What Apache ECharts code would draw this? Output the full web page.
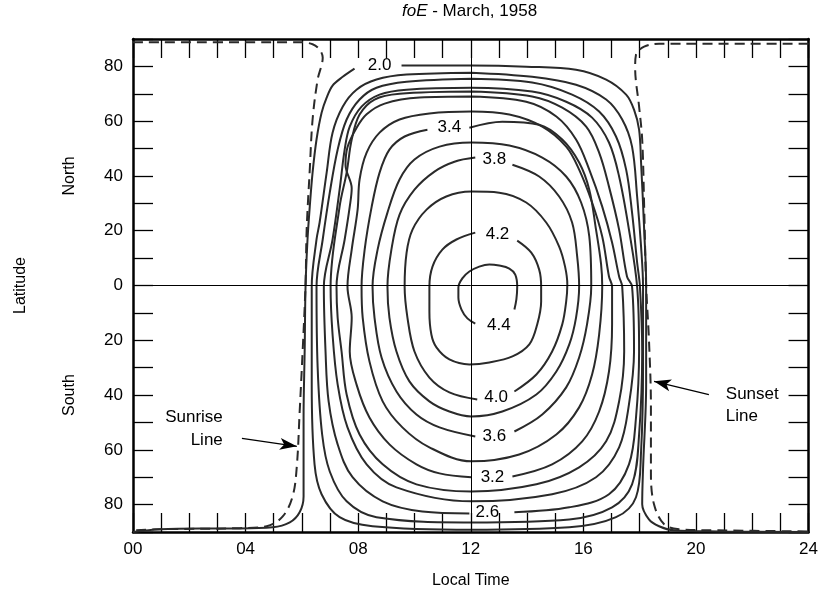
<!DOCTYPE html>
<html><head><meta charset="utf-8">
<script src="https://cdn.jsdelivr.net/npm/echarts@6/dist/echarts.min.js"></script>
<style>html,body{margin:0;padding:0;background:#fff}#c{width:821px;height:594px}</style>
</head><body><div id="c"></div>
<script>
// x = local time (hours), y = latitude (deg, north positive)
const xTicks = [0,4,8,12,16,20,24];
const yLabelValues = [80,60,40,20,0,-20,-40,-60,-80];

const c20 = [[0,-90],[0.96,-89],[2.38,-88.7],[3.8,-88.7],[4.96,-88.3],[5.57,-86.5],[5.92,-82.8],[6.06,-77],[6.06,-48.2],[6.1,-23.3],[6.13,-0.4],[6.2,16.8],[6.28,28.8],[6.38,41.2],[6.52,53.3],[6.7,63.1],[6.88,68.6],[7.09,73],[7.45,76.2],[7.87,79.2],null,[9.54,80.3],[12.02,80.3],[13.97,79.9],[15.74,78.8],[16.81,75.2],[17.52,69.7],[17.8,64.2],[17.98,56.9],[18.05,44.9],[18.16,20.4],[18.23,0.4],[18.23,-36.1],[18.12,-67],[18.09,-79.9],[18.33,-85.4],[18.69,-87.9],[19.22,-89.4],[20.8,-89.8],[24,-90]];
const c22 = [[12.02,77.7],[14.18,76.2],[15.74,73.3],[16.81,67.9],[17.38,60.6],[17.73,50.7],[17.91,32.5],[18.05,14.2],[18.12,-0.4],[18.12,-29.9],[18.05,-60.6],[17.87,-77.3],[17.16,-84.6],[15.5,-88.3],[12.02,-89.2],[8.51,-87.9],[7.34,-84.6],[6.7,-76.2],[6.45,-65.3],[6.35,-36.1],[6.35,-0.4],[6.52,16.8],[6.63,23],[6.88,41.2],[7.09,55.8],[7.45,65.3],[7.94,71.5],[8.65,75.2],[9.72,77],[12.02,77.7]];
const c24 = [[12.02,75.5],[14.18,74.1],[15.6,69.7],[16.56,63.5],[17.16,54.4],[17.52,42.3],[17.73,26.6],[17.91,8.4],[18.01,-0.4],[18.09,-24.1],[17.98,-54.4],[17.73,-72.6],[17.02,-81],[15.5,-85.4],[12.02,-86.5],[8.65,-84.6],[7.59,-78.8],[6.99,-67.9],[6.72,-54.4],[6.56,-29.9],[6.52,-0.4],[6.74,16.8],[6.99,33.9],[7.27,49.6],[7.59,60.6],[8.05,67.9],[8.65,72.2],[9.72,74.4],[12.02,75.5]];
const c26 = [[13.55,-82.8],[15.5,-81],[16.91,-76.2],[17.62,-65.3],[17.87,-48.2],[17.98,-24.1],[17.91,-0.4],[17.62,20.4],[17.27,39.8],[16.91,52.2],[16.31,61.3],[15.39,67.1],[14.18,70.8],[12.02,72.2],[9.72,71.5],[8.76,69.7],[8.12,65.3],[7.7,58],[7.52,49.6],[7.34,35],[7.09,16.8],[6.78,-0.4],[6.84,-24.1],[6.95,-42.3],[7.27,-58],[7.8,-70],[8.87,-78.8],[10.28,-82.5],[11.95,-83.2]];
const c28 = [[12.02,70.8],[14.18,69],[15.25,64.9],[16.1,58],[16.56,48.5],[16.91,36.1],[17.27,20.4],[17.55,3.3],[17.73,-0.4],[17.8,-24.1],[17.62,-43.4],[17.27,-59.1],[16.45,-70],[14.89,-76.2],[12.02,-78.8],[9.36,-73.7],[8.3,-65.3],[7.62,-51.8],[7.27,-36.1],[7.09,-17.9],[7.02,-0.4],[7.34,28.8],[7.59,41.2],[7.77,53.3],[8.05,62.4],[8.58,67.9],[9.47,70],[12.02,70.8]];
const c30 = [[12.02,69],[13.97,67.1],[15.04,61.7],[15.74,53.3],[16.21,42.3],[16.67,28.8],[17.02,15.7],[17.27,3.3],[17.38,-0.4],[17.45,-24.1],[17.27,-42.3],[16.81,-56.9],[15.85,-66.4],[14.33,-72.6],[12.02,-75.2],[10.07,-72.6],[8.87,-65.3],[8.05,-54.4],[7.59,-39.8],[7.41,-24.1],[7.27,-11.7],[7.23,-0.4],[7.52,16.8],[7.7,28.8],[7.77,35.5],[7.55,44],[7.62,50.5],[7.94,57.5],[8.3,62.5],[8.94,66.4],[10.18,68.6],[12.02,69]];
const c32 = [[13.48,-69.7],[14.89,-65.3],[15.96,-56.9],[16.56,-46],[16.91,-31.4],[17.02,-14.2],[17.02,-0.4],[16.91,3.3],[16.67,17.9],[16.31,30.3],[15.85,42.3],[15.39,50.7],[14.54,58],[13.37,62.4],[12.02,63.5],[10.53,62.8],[9.47,60.6],[8.76,55.8],[8.3,48.5],[8.05,38.7],[7.98,27.7],[7.77,13.1],[7.62,-0.4],[7.77,-11.7],[7.7,-24.1],[7.94,-36.1],[8.4,-48.2],[9.11,-58],[10.07,-65.3],[10.89,-68.6],[12.02,-70]];
const c34 = [[11.95,57.6],[13.12,59.8],[14.43,58.7],[15.25,53.3],[15.85,44.9],[16.21,35],[16.45,20.4],[16.63,7.7],[16.67,-0.4],[16.56,-17.9],[16.31,-32.5],[15.85,-44.5],[15.04,-54.4],[13.72,-61.7],[12.02,-64.2],[10.53,-59.1],[9.57,-51.8],[8.87,-42.3],[8.4,-27.7],[8.16,-11.7],[8.12,-0.4],[8.23,13.1],[8.48,28.8],[8.76,41.2],[9.11,49.6],[9.65,54.4],[10.46,56.9]];
const c36 = [[13.55,-53.3],[14.54,-47.1],[15.39,-37.2],[15.85,-26.3],[16.13,-14.2],[16.28,-0.4],[16.21,17.9],[15.92,30.3],[15.39,39.8],[14.54,46.7],[13.37,51.1],[12.02,52.2],[10.89,50.7],[10,46],[9.47,38.7],[9.04,26.6],[8.69,13.1],[8.51,-0.4],[8.58,-11.7],[8.83,-26.3],[9.36,-38.7],[10.07,-47.1],[10.89,-51.8],[12.16,-55.1]];
const c38 = [[13.48,44.1],[14.43,39.8],[15.14,32.5],[15.6,23],[15.78,10.6],[15.85,-0.4],[15.74,-11.7],[15.5,-21.5],[15.04,-31.4],[14.33,-39.8],[13.12,-46],[12.02,-47.8],[11.24,-46],[10.53,-42.3],[9.82,-35],[9.36,-24.1],[9.11,-11.7],[9.04,-0.4],[9.18,13.1],[9.47,25.9],[10,35],[10.71,41.6],[11.42,45.2],[12.16,46.7]];
const c40 = [[13.55,-38.7],[14.33,-32.5],[14.89,-24.1],[15.25,-14.2],[15.39,-5.8],[15.43,0.4],[15.35,6.9],[15.14,14.2],[14.68,23],[13.97,30.3],[13.01,33.9],[12.02,34.3],[11.13,32.5],[10.43,27.7],[9.93,20.4],[9.72,12],[9.65,-0.4],[9.75,-11.7],[10,-24.1],[10.53,-33.6],[11.24,-39],[12.23,-41.6]];
const c42 = [[13.65,16.4],[14.15,12],[14.43,5.8],[14.5,-0.4],[14.5,-5.8],[14.36,-14.2],[14.08,-21.5],[13.48,-25.9],[12.66,-28.1],[11.95,-28.8],[11.24,-27],[10.78,-22.6],[10.6,-17.9],[10.53,-9.5],[10.53,-0.4],[10.64,6.9],[10.99,13.1],[11.49,16.8],[12.16,19.3]];
const c44 = [[13.55,-8.8],[13.62,-5.1],[13.65,-0.4],[13.58,4.0],[13.37,6.2],[13.01,7.3],[12.66,7.7],[12.3,6.9],[11.95,5.1],[11.7,2.6],[11.56,-0.7],[11.56,-4.4],[11.67,-8.8],[11.88,-12.0],[12.16,-13.9]];

const sunrise = [[0,88.8],[5.92,88.8],[6.38,88.1],[6.63,86.1],[6.74,83.2],[6.56,75.2],[6.38,60.6],[6.28,42.3],[6.17,20.4],[6.13,0.4],[6.03,-23.3],[5.92,-46.3],[5.82,-66],[5.67,-77],[5.32,-84.3],[4.75,-87.9],[3.79,-88.6],[0.96,-89],[0,-89.4]];
const sunset = [[24,88.3],[18.69,88.3],[18.16,87.2],[17.87,84.3],[17.84,79.5],[17.98,65.3],[18.09,53.3],[18.16,28.8],[18.23,0],[18.33,-19.7],[18.4,-44],[18.4,-68.2],[18.51,-79.9],[18.87,-87.2],[19.4,-89],[20.8,-89.4],[24,-89.8]];

const contourLabels = [[8.76,80.3,'2.0'],[11.24,57.6,'3.4'],[12.84,46,'3.8'],[12.95,18.6,'4.2'],[13.0,-14.6,'4.4'],[12.9,-40.9,'4.0'],[12.84,-55.1,'3.6'],[12.77,-70,'3.2'],[12.59,-82.8,'2.6']];
const noteRight = [[3.19,-48.2,'Sunrise'],[3.19,-56.6,'Line']];
const noteLeft = [[21.06,-39.8,'Sunset'],[21.06,-47.8,'Line']];
const arrows = [[[3.87,-55.8],[5.82,-58.7]],[[20.46,-39.8],[18.51,-35]]];

const FONT = 'Liberation Sans, Arial, Helvetica, sans-serif';
const LC = '#2a2a2a';
const contours = [c20,c22,c24,c26,c28,c30,c32,c34,c36,c38,c40,c42,c44];

const chart = echarts.init(document.getElementById('c'), null, {renderer:'canvas'});
const series = contours.map(d => ({
  type:'line', data:d, showSymbol:false, smooth:0.35, connectNulls:false,
  lineStyle:{color:LC, width:2}, silent:true, animation:false, z:3
}));
[sunrise, sunset].forEach(d => series.push({
  type:'line', data:d, showSymbol:false, smooth:0.35,
  lineStyle:{color:LC, width:2, type:[10,6]}, silent:true, animation:false, z:3
}));
series.push({
  type:'line', data:[], silent:true, animation:false,
  markLine:{silent:true, symbol:'none', label:{show:false}, animation:false,
    lineStyle:{color:'#000', width:1, type:'solid'},
    data:[{xAxis:12},{yAxis:0}]}
});
series.push({
  type:'line', data:[], silent:true, animation:false,
  markLine:{silent:true, symbol:['none','arrow'], symbolSize:[9,17], label:{show:false}, animation:false,
    lineStyle:{color:'#000', width:1.3, type:'solid'},
    data:arrows.map(a=>[{coord:a[0]},{coord:a[1]}])}
});

const tickCommon = {show:true, inside:true, length:19, lineStyle:{color:'#000', width:1.3}};
const minorCommon = {show:true, splitNumber:4, length:19, lineStyle:{color:'#000', width:1.3}};

chart.setOption({
  animation:false,
  backgroundColor:'#fff',
  title:{text:'{i|foE} - March, 1958', left:402, top:0, padding:[3,0,0,0],
    textStyle:{fontSize:17, fontWeight:'normal', color:'#000', fontFamily:FONT,
      rich:{i:{fontStyle:'italic', fontSize:17, color:'#000', fontFamily:FONT}}}},
  grid:{left:133, top:39, right:11, bottom:61},
  xAxis:[
    {type:'value', min:0, max:24, interval:4, position:'bottom',
     axisLine:{show:true, onZero:false, lineStyle:{color:'#000', width:2.5}},
     axisTick:tickCommon, minorTick:minorCommon, splitLine:{show:false},
     axisLabel:{fontSize:17, color:'#000', fontFamily:FONT, margin:9,
       formatter:v=> xTicks.includes(v) ? String(v).padStart(2,'0') : ''},
     name:'Local Time', nameLocation:'middle', nameGap:41,
     nameTextStyle:{fontSize:16, color:'#000', fontFamily:FONT}},
    {type:'value', min:0, max:24, interval:4, position:'top',
     axisLine:{show:true, onZero:false, lineStyle:{color:'#000', width:2.5}},
     axisTick:tickCommon, minorTick:minorCommon, splitLine:{show:false},
     axisLabel:{show:false}}
  ],
  yAxis:[
    {type:'value', min:-90, max:90, interval:10, position:'left',
     axisLine:{show:true, onZero:false, lineStyle:{color:'#000', width:2.5}},
     axisTick:{show:true, inside:true, length:20, lineStyle:{color:'#000', width:1.3}},
     splitLine:{show:false},
     axisLabel:{fontSize:17, color:'#000', fontFamily:FONT, margin:10,
       formatter:v=> yLabelValues.includes(v) ? String(Math.abs(v)) : ''},
     name:'Latitude', nameLocation:'middle', nameGap:104, nameRotate:90,
     nameTextStyle:{fontSize:16, color:'#000', fontFamily:FONT}},
    {type:'value', min:-90, max:90, interval:10, position:'right',
     axisLine:{show:true, onZero:false, lineStyle:{color:'#000', width:2.5}},
     axisTick:{show:true, inside:true, length:20, lineStyle:{color:'#000', width:1.3}},
     splitLine:{show:false}, axisLabel:{show:false}}
  ],
  series:series
});

// Text annotations placed through the axes' own scales
const toPx = (x,y) => chart.convertToPixel({xAxisIndex:0, yAxisIndex:0}, [x,y]);
const gfx = [];
contourLabels.forEach(([x,y,t]) => {
  const p = toPx(x,y);
  gfx.push({type:'text', x:p[0], y:p[1], z:100, style:{text:t, font:'17px '+FONT, fill:'#000', align:'center', verticalAlign:'middle'}});
});
noteRight.forEach(([x,y,t]) => {
  const p = toPx(x,y);
  gfx.push({type:'text', x:p[0], y:p[1], z:100, style:{text:t, font:'17px '+FONT, fill:'#000', align:'right', verticalAlign:'middle'}});
});
noteLeft.forEach(([x,y,t]) => {
  const p = toPx(x,y);
  gfx.push({type:'text', x:p[0], y:p[1], z:100, style:{text:t, font:'17px '+FONT, fill:'#000', align:'left', verticalAlign:'middle'}});
});
const pN = toPx(0, 40), pS = toPx(0, -40);
gfx.push({type:'text', x:70, y:pN[1], rotation:Math.PI/2, style:{text:'North', font:'16px '+FONT, fill:'#000', align:'center', verticalAlign:'middle'}});
gfx.push({type:'text', x:70, y:pS[1], rotation:Math.PI/2, style:{text:'South', font:'16px '+FONT, fill:'#000', align:'center', verticalAlign:'middle'}});
chart.setOption({graphic:gfx});
</script></body></html>
